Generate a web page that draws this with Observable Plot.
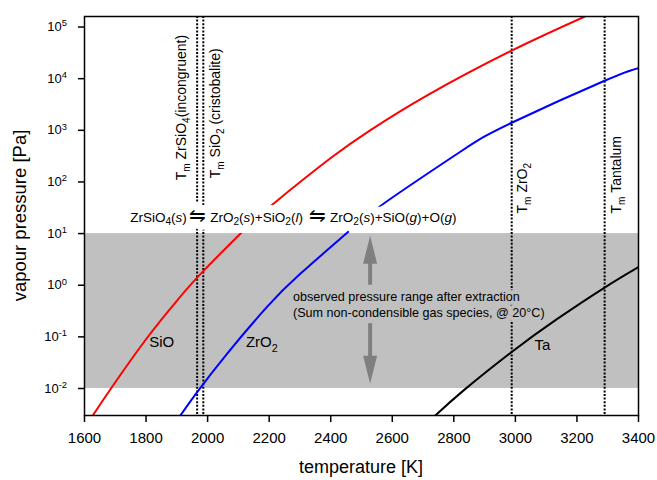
<!DOCTYPE html>
<html><head><meta charset="utf-8">
<script src="https://cdn.jsdelivr.net/npm/d3@7"></script>
<script src="https://cdn.jsdelivr.net/npm/@observablehq/plot@0.6"></script>
<style>body{margin:0;background:#fff} svg{display:block}</style>
</head><body><div id="chart"></div>
<script>
// ---- data ----
const xTicks = [1600, 1800, 2000, 2200, 2400, 2600, 2800, 3000, 3200, 3400];
const yExponents = [-2, -1, 0, 1, 2, 3, 4, 5];
const yDomain = [0.003, 160000];

const sioT = [1627, 1686, 1800, 1900, 1985, 2117, 2214, 2400, 2528, 2712, 2988, 3226];
const sioP = [0.003, 0.01, 0.09, 0.5, 1.85, 11.5, 38, 290, 1000, 4700, 35000, 160000];
const zro2T = [1908, 1966, 2063, 2193, 2301, 2458, 2577, 2820, 2988, 3290, 3400];
const zro2P = [0.0028, 0.0085, 0.047, 0.38, 1.66, 11, 40, 380, 1400, 9100, 16000];
const taT = [2740, 2830, 2988, 3135, 3290, 3400];
const taP = [0.003, 0.009, 0.051, 0.22, 0.9, 2.24];

const meltT = [1966, 1986, 2988, 3290];
const meltLabels = ["T_{m} ZrSiO_{4}(incongruent)", "T_{m} SiO_{2} (cristobalite)", "T_{m} ZrO_{2}", "T_{m} Tantalum"];
const meltLabelT = [1917, 2025, 3025, 3330];
const meltLabelP = [105, 115, 24, 24];

const bandLow = 0.01, bandHigh = 10;

const curveLabels = ["SiO", "ZrO_{2}", "Ta"];
const curveLabelT = [1812, 2126, 3064];
const curveLabelP = [0.077, 0.077, 0.068];

const reaction = "ZrSiO_{4}(*s*)\u2009~{⇋} ZrO_{2}(*s*)+SiO_{2}(*l*)\u2009 ~{⇋} ZrO_{2}(*s*)+SiO(*g*)+O(*g*)";
const reactionT = 1750, reactionP = 20.6;

const noteLines = ["observed pressure range after extraction", "(Sum non-condensible gas species, @ 20°C)"];
const noteT = 2279, noteP = [0.58, 0.29];

const arrowT = 2528;
const arrowShaftFrom = [1.0, 0.18];
const arrowShaftTo = [4.0, 0.03];
const arrowUpTip = 9.1, arrowDownTip = 0.0123;

// ---- build ----
const NS = "http://www.w3.org/2000/svg";
const FONT = "'Liberation Sans', Arial, Helvetica, sans-serif";
const sio = sioT.map((T, i) => ({T, p: sioP[i]}));
const zro2 = zro2T.map((T, i) => ({T, p: zro2P[i]}));
const ta = taT.map((T, i) => ({T, p: taP[i]}));
const melt = meltT.map((T, i) => ({T}));
const band = [{lo: bandLow, hi: bandHigh}];
const shafts = arrowShaftFrom.map((f, i) => ({T: arrowT, from: f, to: arrowShaftTo[i]}));
const xDomain = [xTicks[0], xTicks[xTicks.length - 1]];

const upHead = {draw(c) { c.moveTo(0, 0); c.lineTo(7, 28); c.lineTo(-7, 28); c.closePath(); }};
const downHead = {draw(c) { c.moveTo(0, 0); c.lineTo(7, -28); c.lineTo(-7, -28); c.closePath(); }};
const GREY = "#7f7f7f";

const plot = Plot.plot({
  width: 657, height: 480,
  marginLeft: 84, marginRight: 19, marginTop: 16, marginBottom: 65,
  style: {fontFamily: FONT, background: "white", color: "black"},
  x: {domain: xDomain},
  y: {type: "log", domain: yDomain},
  marks: [
    Plot.rect(band, {x1: () => xDomain[0], x2: () => xDomain[1], y1: "lo", y2: "hi", fill: "#c0c0c0"}),
    Plot.ruleX(melt, {x: "T", stroke: "black", strokeWidth: 2, strokeDasharray: "2,1.6"}),
    Plot.line(sio, {x: "T", y: "p", stroke: "#ff0000", strokeWidth: 2, curve: "natural", clip: true}),
    Plot.line(zro2, {x: "T", y: "p", stroke: "#0000ff", strokeWidth: 2, curve: "natural", clip: true}),
    Plot.line(ta, {x: "T", y: "p", stroke: "black", strokeWidth: 2, curve: "natural", clip: true}),
    Plot.ruleX(shafts, {x: "T", y1: "from", y2: "to", stroke: GREY, strokeWidth: 4}),
    Plot.dot([{T: arrowT, p: arrowUpTip}], {x: "T", y: "p", symbol: upHead, fill: GREY}),
    Plot.dot([{T: arrowT, p: arrowDownTip}], {x: "T", y: "p", symbol: downHead, fill: GREY}),
    Plot.frame({stroke: "black", strokeWidth: 1.5}),
    Plot.axisX({ticks: xTicks, tickSize: 7, tickPadding: 10, fontSize: 15, strokeWidth: 1.5, label: null, tickFormat: d => String(d)}),
    Plot.axisY({ticks: yExponents.map(e => 10 ** e), tickSize: 6, strokeWidth: 1.5, label: null, tickFormat: () => ""})
  ]
});
document.getElementById("chart").appendChild(plot);
const svg = plot;
const sx = plot.scale("x"), sy = plot.scale("y");
const X = v => sx.apply(v), Y = v => sy.apply(v);

function parse(str) {
  const parts = [];
  const re = /_\{([^}]*)\}|\^\{([^}]*)\}|~\{([^}]*)\}|\*([^*]*)\*|([^_^~*]+)/g;
  let m;
  while ((m = re.exec(str))) {
    if (m[1] != null) parts.push({t: m[1], sub: true});
    else if (m[2] != null) parts.push({t: m[2], sup: true});
    else if (m[3] != null) parts.push({t: m[3], scale: 1.5});
    else if (m[4] != null) parts.push({t: m[4], it: true});
    else parts.push({t: m[5]});
  }
  return parts;
}
function makeText(x, y, str, o, halo) {
  const size = o.size || 14;
  const subScale = o.subScale || 0.72;
  const t = document.createElementNS(NS, "text");
  t.setAttribute("transform", `translate(${x},${y})${o.rotate ? ` rotate(${o.rotate})` : ""}`);
  t.setAttribute("x", 0);
  t.setAttribute("y", o.baseline ? 0 : 0.35 * size);
  t.setAttribute("font-family", FONT);
  t.setAttribute("font-size", size);
  t.setAttribute("text-anchor", o.anchor || "start");
  t.setAttribute("style", "white-space:pre");
  if (halo) {
    t.setAttribute("fill", halo);
    t.setAttribute("stroke", halo);
    t.setAttribute("stroke-width", o.haloWidth || 6);
    t.setAttribute("stroke-linejoin", "round");
  } else {
    t.setAttribute("fill", o.fill || "black");
  }
  let shift = 0;
  for (const p of parse(str)) {
    const s = document.createElementNS(NS, "tspan");
    let target = 0, fs = size;
    if (p.sub) { target = 0.28 * size; fs = subScale * size; }
    else if (p.sup) { target = -0.36 * size; fs = 0.72 * size; }
    if (p.scale) fs = size * p.scale;
    s.setAttribute("dy", target - shift);
    shift = target;
    s.setAttribute("font-size", fs);
    if (p.it) s.setAttribute("font-style", "italic");
    s.textContent = p.t;
    t.appendChild(s);
  }
  svg.appendChild(t);
  return t;
}
function rich(x, y, str, o = {}) {
  if (o.halo) makeText(x, y, str, o, o.halo);
  return makeText(x, y, str, o, null);
}

// y tick labels 10^n
const x0 = X(xDomain[0]), x1 = X(xDomain[1]);
for (const e of yExponents) rich(x0 - 17, Y(10 ** e), `10^{${e}}`, {size: 13, anchor: "end"});

// melting-point labels
meltLabels.forEach((s, i) => rich(X(meltLabelT[i]), Y(meltLabelP[i]), s, {size: 14, rotate: -90}));

// curve labels
curveLabels.forEach((s, i) => rich(X(curveLabelT[i]), Y(curveLabelP[i]), s, {size: 15}));

// reaction
rich(X(reactionT), Y(reactionP), reaction, {size: 13.5, subScale: 0.75, halo: "white", haloWidth: 16});

// note
noteLines.forEach((s, i) => rich(X(noteT), Y(noteP[i]), s, {size: 12.6, halo: "#c0c0c0", haloWidth: 8}));

// axis titles
const yMid = (Y(yDomain[0]) + Y(yDomain[1])) / 2;
rich((x0 + x1) / 2, 473, "temperature [K]", {size: 18, anchor: "middle", baseline: true});
rich(25.5, yMid, "vapour pressure [Pa]", {size: 18.5, anchor: "middle", rotate: -90, baseline: true});
</script></body></html>
